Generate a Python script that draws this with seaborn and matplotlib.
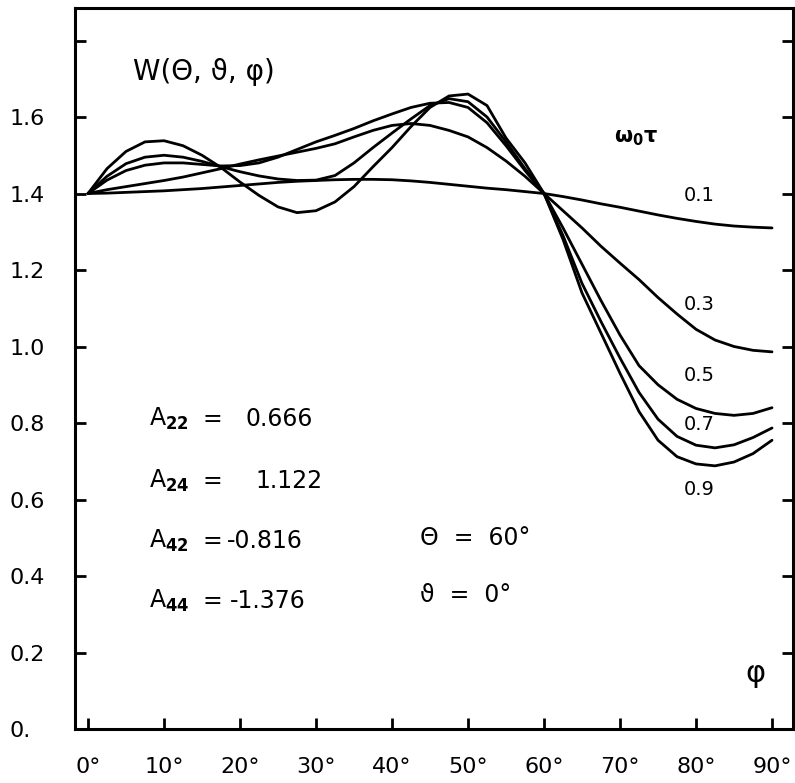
import numpy as np
import pandas as pd
import matplotlib
matplotlib.use("Agg")
import matplotlib.pyplot as plt
import seaborn as sns

# angle phi in degrees
phi = [0, 2.5, 5, 7.5, 10, 12.5, 15, 17.5, 20, 22.5, 25, 27.5, 30, 32.5, 35, 37.5,
       40, 42.5, 45, 47.5, 50, 52.5, 55, 57.5, 60, 62.5, 65, 67.5, 70, 72.5, 75,
       77.5, 80, 82.5, 85, 87.5, 90]

# W(Theta, theta, phi), one list per omega_0 tau
w_01 = [1.400, 1.401, 1.403, 1.405, 1.407, 1.410, 1.413, 1.417, 1.421, 1.425, 1.429, 1.432,
        1.434, 1.436, 1.437, 1.437, 1.436, 1.433, 1.429, 1.424, 1.419, 1.414, 1.410, 1.405,
        1.400, 1.392, 1.383, 1.373, 1.364, 1.354, 1.344, 1.335, 1.327, 1.320, 1.315, 1.312, 1.310]
w_03 = [1.400, 1.410, 1.418, 1.426, 1.434, 1.443, 1.454, 1.465, 1.477, 1.488, 1.498, 1.508,
        1.518, 1.530, 1.548, 1.565, 1.578, 1.583, 1.578, 1.565, 1.548, 1.520, 1.485, 1.445,
        1.400, 1.355, 1.310, 1.262, 1.218, 1.175, 1.128, 1.085, 1.045, 1.017, 1.000, 0.990, 0.986]
w_05 = [1.400, 1.435, 1.460, 1.474, 1.480, 1.480, 1.476, 1.472, 1.473, 1.480, 1.495, 1.515,
        1.535, 1.552, 1.570, 1.590, 1.608, 1.625, 1.636, 1.638, 1.625, 1.585, 1.525, 1.460,
        1.400, 1.310, 1.215, 1.120, 1.030, 0.950, 0.900, 0.862, 0.838, 0.825, 0.820, 0.825, 0.840]
w_07 = [1.400, 1.445, 1.478, 1.495, 1.500, 1.495, 1.484, 1.470, 1.457, 1.446, 1.438, 1.434,
        1.435, 1.447, 1.480, 1.520, 1.558, 1.595, 1.630, 1.648, 1.640, 1.600, 1.535, 1.465,
        1.400, 1.290, 1.165, 1.065, 0.970, 0.880, 0.810, 0.765, 0.742, 0.735, 0.743, 0.762, 0.787]
w_09 = [1.400, 1.465, 1.510, 1.535, 1.538, 1.525, 1.500, 1.468, 1.430, 1.395, 1.365, 1.350,
        1.355, 1.378, 1.418, 1.470, 1.520, 1.575, 1.625, 1.655, 1.660, 1.630, 1.545, 1.480,
        1.400, 1.280, 1.140, 1.035, 0.930, 0.830, 0.755, 0.712, 0.693, 0.688, 0.698, 0.720, 0.755]

curves = [w_01, w_03, w_05, w_07, w_09]
curve_labels = ["0.1", "0.3", "0.5", "0.7", "0.9"]
label_y = [1.396, 1.111, 0.923, 0.795, 0.625]

y_ticks = [0, 0.2, 0.4, 0.6, 0.8, 1.0, 1.2, 1.4, 1.6, 1.8]
y_ticklabels = ["0.", "0.2", "0.4", "0.6", "0.8", "1.0", "1.2", "1.4", "1.6", ""]
x_ticks = [0, 10, 20, 30, 40, 50, 60, 70, 80, 90]
x_ticklabels = [f"{t}°" for t in x_ticks]

coef_names = ["A$_{\\mathbf{22}}$", "A$_{\\mathbf{24}}$", "A$_{\\mathbf{42}}$", "A$_{\\mathbf{44}}$"]
coef_values = ["0.666", "1.122", "-0.816", "-1.376"]

sns.set_theme(style="white")
plt.rcParams["font.family"] = ["DejaVu Sans"]
plt.rcParams["mathtext.fontset"] = "dejavusans"
plt.rcParams["text.color"] = "black"
plt.rcParams["xtick.color"] = "black"
plt.rcParams["ytick.color"] = "black"

fig = plt.figure(figsize=(7.95, 7.83), dpi=100)
ax = fig.add_axes([75 / 795, 1 - 729 / 783, (793 - 75) / 795, (729 - 8) / 783])

df = pd.DataFrame({"phi": phi * 5,
                   "W": sum(curves, []),
                   "wt": np.repeat(curve_labels, len(phi))})
sns.lineplot(data=df, x="phi", y="W", hue="wt", palette=["black"] * 5,
             linewidth=2.0, legend=False, ax=ax)
for ln in ax.get_lines():
    ln.set_solid_joinstyle("round")
    ln.set_solid_capstyle("round")

ax.set_xlim(-1.71, 92.76)
ax.set_ylim(0, 1.885)
ax.set_xticks(x_ticks)
ax.set_xticklabels(x_ticklabels, fontsize=16)
ax.set_yticks(y_ticks)
ax.set_yticklabels(y_ticklabels, fontsize=16, ha="left")
ax.set_xlabel("")
ax.set_ylabel("")
ax.tick_params(axis="y", direction="in", left=True, right=True, length=8, width=2, pad=47)
ax.tick_params(axis="x", direction="in", bottom=True, top=False, length=8, width=2, pad=20)
for s in ax.spines.values():
    s.set_color("black")
    s.set_linewidth(2.2)

ax.text(5.9, 1.718, "W(Θ, ϑ, φ)", fontsize=20, ha="left", va="center")
ax.text(72.1, 1.545, r"$\mathbf{\omega_{0}\tau}$", fontsize=15, ha="center", va="center")
for lab, yv in zip(curve_labels, label_y):
    ax.text(80.4, yv, lab, fontsize=14, ha="center", va="center")

coef_y = [0.81, 0.648, 0.492, 0.335]
value_x = [20.7, 22.0, 18.3, 18.7]
for name, val, yv, xv in zip(coef_names, coef_values, coef_y, value_x):
    ax.text(8.0, yv, name, fontsize=17, ha="left", va="center")
    ax.text(16.4, yv, "=", fontsize=17, ha="center", va="center")
    ax.text(xv, yv, val, fontsize=17, ha="left", va="center")

ax.text(43.7, 0.499, "Θ  =  60°", fontsize=17, ha="left", va="center")
ax.text(43.7, 0.350, "ϑ  =  0°", fontsize=17, ha="left", va="center")
ax.text(87.8, 0.146, "φ", fontsize=22, ha="center", va="center")

fig.savefig("out.png", dpi=100)
